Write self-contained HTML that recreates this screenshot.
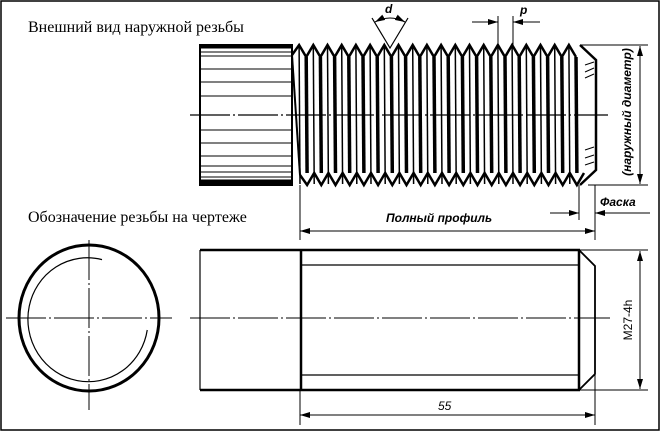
<!DOCTYPE html>
<html><head><meta charset="utf-8"><style>
html,body{margin:0;padding:0;background:#fff;width:660px;height:431px;overflow:hidden}
svg{display:block}
.t{font-family:"Liberation Serif",serif;font-size:16px;fill:#000}
.i{font-family:"Liberation Sans",sans-serif;font-style:italic;font-weight:bold;font-size:12px;fill:#000}
</style></head><body>
<svg id="s" width="660" height="431" viewBox="0 0 660 431" xmlns="http://www.w3.org/2000/svg">
<defs><marker id="a" viewBox="0 0 10 6" refX="10" refY="3" markerWidth="10" markerHeight="6" orient="auto-start-reverse" markerUnits="userSpaceOnUse"><path d="M0,0L10,3L0,6z" fill="#000"/></marker></defs>
<rect x="1" y="1" width="658" height="429" fill="none" stroke="#000" stroke-width="1.5"/>
<text class="t" x="28" y="32">Внешний вид наружной резьбы</text>
<text class="t" x="28" y="222">Обозначение резьбы на чертеже</text>

<g stroke="#000">
<rect x="200" y="45" width="92" height="140" fill="#fff" stroke-width="2"/>
<line x1="200" y1="47" x2="292" y2="47" stroke-width="3"/>
<line x1="200" y1="182" x2="292" y2="182" stroke-width="5"/>
<g stroke-width="1">
<line x1="200" y1="52" x2="292" y2="52"/><line x1="200" y1="56" x2="292" y2="56"/>
<line x1="200" y1="69" x2="292" y2="69"/><line x1="200" y1="82" x2="292" y2="82"/>
<line x1="200" y1="96" x2="292" y2="96"/><line x1="200" y1="130" x2="292" y2="130"/>
<line x1="200" y1="143" x2="292" y2="143"/><line x1="200" y1="156" x2="292" y2="156"/>
<line x1="200" y1="166" x2="292" y2="166"/><line x1="200" y1="172" x2="292" y2="172"/>
<line x1="200" y1="177" x2="292" y2="177"/>
</g>
</g>
<g id="thr" stroke="#000" fill="none"></g>
<path d="M580,45 L596,60 L596,170 L580,185" fill="none" stroke="#000" stroke-width="2.5"/>
<g stroke="#000" stroke-width="1">
<line x1="585" y1="65" x2="594" y2="62"/><line x1="585" y1="72" x2="594" y2="68"/><line x1="585" y1="78" x2="594" y2="74"/>
<line x1="585" y1="150" x2="594" y2="147"/><line x1="585" y1="158" x2="594" y2="155"/><line x1="585" y1="165" x2="594" y2="162"/>
</g>
<line x1="190" y1="115" x2="608" y2="115" stroke="#000" stroke-width="1.2" stroke-dasharray="40,3,2,3"/>
<path d="M372,18 L390,48 L408,18" fill="none" stroke="#000" stroke-width="1.2"/>
<path d="M375,22 Q390,14 405,22" fill="none" stroke="#000" stroke-width="1" marker-start="url(#a)" marker-end="url(#a)"/>
<text class="i" x="385" y="13" font-size="13">d</text>
<line x1="498" y1="16" x2="498" y2="45" stroke="#000"/><line x1="513" y1="16" x2="513" y2="45" stroke="#000"/>
<line x1="472" y1="22" x2="498" y2="22" stroke="#000" marker-end="url(#a)"/>
<line x1="540" y1="22" x2="513" y2="22" stroke="#000" marker-end="url(#a)"/>
<text class="i" x="520" y="14" font-size="13">p</text>
<line x1="580" y1="45" x2="648" y2="45" stroke="#000"/><line x1="588" y1="185" x2="648" y2="185" stroke="#000"/>
<line x1="640" y1="46" x2="640" y2="184" stroke="#000" marker-start="url(#a)" marker-end="url(#a)"/>
<text class="i" transform="translate(631,112) rotate(-90)" text-anchor="middle">(наружный диаметр)</text>
<line x1="300" y1="185" x2="300" y2="240" stroke="#000"/>
<line x1="579" y1="185" x2="579" y2="220" stroke="#000"/>
<line x1="595" y1="185" x2="595" y2="240" stroke="#000"/>
<line x1="300" y1="231" x2="595" y2="231" stroke="#000" marker-start="url(#a)" marker-end="url(#a)"/>
<text class="i" x="386" y="222">Полный  профиль</text>
<line x1="550" y1="213" x2="579" y2="213" stroke="#000" marker-end="url(#a)"/>
<line x1="622" y1="213" x2="595" y2="213" stroke="#000" marker-end="url(#a)"/>
<line x1="608" y1="213" x2="650" y2="213" stroke="#000"/>
<text class="i" x="600" y="206">Фаска</text>

<ellipse cx="89" cy="318" rx="70" ry="73" fill="none" stroke="#000" stroke-width="3"/>
<path d="M110,262 A60,62 0 1 0 145,338" fill="none" stroke="#000" stroke-width="1.2" transform="rotate(-8 89 318)"/>
<line x1="6" y1="318" x2="172" y2="318" stroke="#000" stroke-width="1" stroke-dasharray="40,3,2,3"/>
<line x1="89" y1="240" x2="89" y2="410" stroke="#000" stroke-width="1" stroke-dasharray="40,3,2,3"/>
<g stroke="#000" fill="none">
<line x1="200" y1="250" x2="580" y2="250" stroke-width="2.5"/>
<line x1="200" y1="390" x2="580" y2="390" stroke-width="2.5"/>
<line x1="200" y1="250" x2="200" y2="390" stroke-width="1.2"/>
<line x1="301" y1="250" x2="301" y2="390" stroke-width="2.5"/>
<line x1="301" y1="265" x2="579" y2="265" stroke-width="1.2"/>
<line x1="301" y1="375" x2="579" y2="375" stroke-width="1.2"/>
<line x1="579" y1="250" x2="579" y2="390" stroke-width="2.5"/>
<path d="M579,250 L595,266 L595,374 L579,390" stroke-width="1.8"/>
<line x1="580" y1="250" x2="648" y2="250"/><line x1="580" y1="390" x2="648" y2="390"/>
<line x1="640" y1="251" x2="640" y2="389" marker-start="url(#a)" marker-end="url(#a)"/>
<line x1="300" y1="390" x2="300" y2="425"/><line x1="595" y1="375" x2="595" y2="425"/>
<line x1="300" y1="415" x2="595" y2="415" marker-start="url(#a)" marker-end="url(#a)"/>
</g>
<line x1="190" y1="318" x2="610" y2="318" stroke="#000" stroke-width="1" stroke-dasharray="40,3,2,3"/>
<text class="i" transform="translate(632,320) rotate(-90)" text-anchor="middle" style="font-style:normal;font-weight:normal" font-size="13">M27-4h</text>
<text class="i" x="438" y="410" font-size="14" style="font-weight:normal">55</text>
</svg>
<script>
var g=document.getElementById('thr'),h='';
var x0=292,p=14.2,n=20;
var tp='M'+x0+',55',bt='M'+(x0+8)+',175';
for(var i=0;i<n;i++){var x=x0+i*p;tp+=' L'+(x+p/2)+',45 L'+(x+p)+',57';var b=x+8;bt+=' L'+(b+p/2)+',185 L'+(b+p)+',173';
h+='<line x1="'+(x+p/2)+'" y1="46" x2="'+(b)+'" y2="184" stroke-width="1.5"/>';
h+='<line x1="'+(x+p)+'" y1="57" x2="'+(b+p/2)+'" y2="173" stroke-width="3.5"/>';}
h+='<path d="'+tp+'" stroke-width="2.5"/>';
h+='<path d="'+bt+'" stroke-width="2.5"/>';
h+='<line x1="'+x0+'" y1="55" x2="'+(x0+8)+'" y2="175" stroke-width="2"/>';
g.innerHTML=h;
</script>
</body></html>
